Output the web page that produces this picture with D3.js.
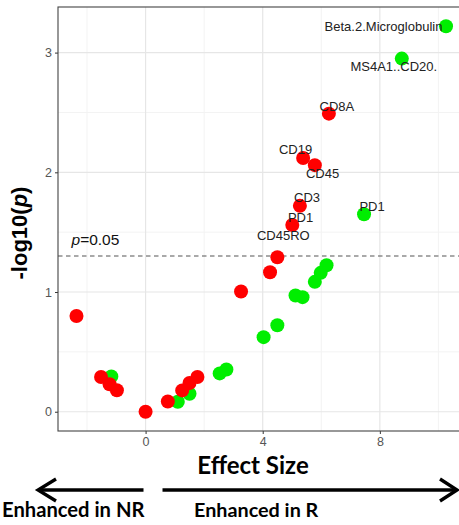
<!DOCTYPE html>
<html>
<head>
<meta charset="utf-8">
<script src="https://cdn.jsdelivr.net/npm/d3@7"></script>
<style>
  html, body { margin: 0; padding: 0; background: #fff; }
  svg { display: block; }
</style>
</head>
<body>
<div id="chart"></div>
<script>
// Volcano-style plot: effect size vs -log10(p)

const greenEffect = [10.26, 8.75, 7.46, 6.18, 5.98, 5.78, 5.12, 5.36, 4.50, 4.03, 2.76, 2.53, 1.50, 1.10, -1.17];
const greenLogP = [3.22, 2.95, 1.65, 1.224, 1.16, 1.085, 0.971, 0.957, 0.723, 0.623, 0.353, 0.32, 0.15, 0.083, 0.295];
const greenNames = ["Beta.2.Microglobulin", "MS4A1..CD20.", "PD1", "", "", "", "", "", "", "", "", "", "", "", ""];

const redEffect = [6.26, 5.38, 5.78, 5.27, 5.01, 4.50, 4.25, 3.26, 1.77, 1.50, 1.25, 0.76, 0, -0.98, -1.23, -1.52, -2.36];
const redLogP = [2.49, 2.12, 2.06, 1.72, 1.56, 1.29, 1.165, 1.004, 0.29, 0.24, 0.178, 0.086, 0, 0.18, 0.23, 0.29, 0.80];
const redNames = ["CD8A", "CD19", "CD45", "CD3", "PD1", "CD45RO", "", "", "", "", "", "", "", "", "", "", ""];

const xTicks = [0, 4, 8];
const xMinor = [-2, 2, 6, 10];
const yTicks = [0, 1, 2, 3];
const yMinor = [0.5, 1.5, 2.5];
const pThreshold = 0.05;

// label nudges in px (repel-like placement)
const labelNudge = {
  "Beta.2.Microglobulin": [-62.5, 0],
  "MS4A1..CD20.": [-8, 8],
  "CD8A": [8, -7.6],
  "CD19": [-7.6, -8.4],
  "CD45": [7.7, 8.7],
  "CD3": [7.2, -8.3],
  "PD1g": [8, -8.3],
  "PD1r": [8.3, -8],
  "CD45RO": [6, -22],
};

const width = 459;
const height = 525;
const panel = { left: 58, top: 7, bottom: 431, right: 464.5 };

const toPoints = (xs, ys, names, grp) =>
  xs.map((x, i) => ({ x, y: ys[i], name: names[i], grp }));
const green = toPoints(greenEffect, greenLogP, greenNames, "g");
const red = toPoints(redEffect, redLogP, redNames, "r");
const all = green.concat(red);

// ggplot-like 5% expansion
const expand = (ext) => {
  const pad = (ext[1] - ext[0]) * 0.05;
  return [ext[0] - pad, ext[1] + pad];
};
const x = d3.scaleLinear()
  .domain(expand(d3.extent(all, (d) => d.x)))
  .range([panel.left, panel.right]);
const y = d3.scaleLinear()
  .domain(expand(d3.extent(all, (d) => d.y)))
  .range([panel.bottom, panel.top]);

const svg = d3.select("#chart").append("svg")
  .attr("width", width)
  .attr("height", height)
  .attr("font-family", "'Liberation Sans', Arial, sans-serif");

const grid = svg.append("g");
grid.selectAll("line.vminor").data(xMinor).enter().append("line")
  .attr("x1", (d) => x(d)).attr("x2", (d) => x(d))
  .attr("y1", panel.top).attr("y2", panel.bottom)
  .attr("stroke", "#f3f3f3").attr("stroke-width", 1);
grid.selectAll("line.hminor").data(yMinor).enter().append("line")
  .attr("y1", (d) => y(d)).attr("y2", (d) => y(d))
  .attr("x1", panel.left).attr("x2", panel.right)
  .attr("stroke", "#f3f3f3").attr("stroke-width", 1);
grid.selectAll("line.vmajor").data(xTicks).enter().append("line")
  .attr("x1", (d) => x(d)).attr("x2", (d) => x(d))
  .attr("y1", panel.top).attr("y2", panel.bottom)
  .attr("stroke", "#e6e6e6").attr("stroke-width", 1.2);
grid.selectAll("line.hmajor").data(yTicks).enter().append("line")
  .attr("y1", (d) => y(d)).attr("y2", (d) => y(d))
  .attr("x1", panel.left).attr("x2", panel.right)
  .attr("stroke", "#e6e6e6").attr("stroke-width", 1.2);

// threshold line
const thr = -Math.log10(pThreshold);
svg.append("line")
  .attr("x1", panel.left).attr("x2", panel.right)
  .attr("y1", y(thr)).attr("y2", y(thr))
  .attr("stroke", "#555").attr("stroke-width", 1.2)
  .attr("stroke-dasharray", "4.5,3.5");

const pLab = svg.append("text")
  .attr("x", 71.5).attr("y", y(thr) - 10.5)
  .attr("font-size", 15.5).attr("fill", "#111");
pLab.append("tspan").attr("font-style", "italic").text("p");
pLab.append("tspan").text("=" + pThreshold);

// axes
const xAxis = d3.axisBottom(x).tickValues(xTicks).tickFormat(d3.format("d"))
  .tickSize(3).tickPadding(3);
const yAxis = d3.axisLeft(y).tickValues(yTicks).tickFormat(d3.format("d"))
  .tickSize(3).tickPadding(3);
const gx = svg.append("g").attr("transform", `translate(0,${panel.bottom})`).call(xAxis);
const gy = svg.append("g").attr("transform", `translate(${panel.left},0)`).call(yAxis);
[gx, gy].forEach((g) => {
  g.select(".domain").remove();
  g.selectAll(".tick line").attr("stroke", "#333");
  g.selectAll(".tick text").attr("fill", "#555").attr("font-size", 12.5)
    .attr("font-family", "'Liberation Sans', Arial, sans-serif");
});

// panel border
svg.append("rect")
  .attr("x", panel.left).attr("y", panel.top)
  .attr("width", panel.right - panel.left).attr("height", panel.bottom - panel.top)
  .attr("fill", "none").attr("stroke", "#444").attr("stroke-width", 1.1);

// points: green underneath, red on top
svg.append("clipPath").attr("id", "clip").append("rect")
  .attr("x", panel.left).attr("y", panel.top)
  .attr("width", panel.right - panel.left).attr("height", panel.bottom - panel.top);
const pts = svg.append("g").attr("clip-path", "url(#clip)");
pts.selectAll("circle.g").data(green).enter().append("circle")
  .attr("cx", (d) => x(d.x)).attr("cy", (d) => y(d.y)).attr("r", 7)
  .attr("fill", "#00ee00");
pts.selectAll("circle.r").data(red).enter().append("circle")
  .attr("cx", (d) => x(d.x)).attr("cy", (d) => y(d.y)).attr("r", 7)
  .attr("fill", "#ff0000");

// point labels
const labelled = all.filter((d) => d.name);
svg.append("g").selectAll("text").data(labelled).enter().append("text")
  .attr("x", (d) => x(d.x) + (labelNudge[d.name] || labelNudge[d.name + d.grp])[0])
  .attr("y", (d) => y(d.y) + (labelNudge[d.name] || labelNudge[d.name + d.grp])[1] + 4.6)
  .attr("text-anchor", "middle")
  .attr("font-size", 13)
  .attr("fill", "#222")
  .text((d) => d.name);

// axis titles
svg.append("text")
  .attr("x", 253).attr("y", 474)
  .attr("text-anchor", "middle")
  .attr("font-family", "Lato, 'Open Sans', sans-serif")
  .attr("font-weight", "bold").attr("font-size", 24)
  .attr("fill", "#000")
  .text("Effect Size");

const yt = svg.append("text")
  .attr("transform", "translate(27,233) rotate(-90)")
  .attr("text-anchor", "middle")
  .attr("font-weight", "bold").attr("font-size", 22)
  .attr("fill", "#000");
yt.append("tspan").text("-log10(");
yt.append("tspan").attr("font-style", "italic").text("p");
yt.append("tspan").text(")");

// direction arrows
const ay = 490;
const arrows = svg.append("g").attr("stroke", "#000").attr("stroke-width", 3.3)
  .attr("fill", "none").attr("stroke-linecap", "butt");
arrows.append("line").attr("x1", 38).attr("x2", 143.5).attr("y1", ay).attr("y2", ay);
arrows.append("path").attr("d", `M56,${ay - 11} L38,${ay} L56,${ay + 11}`)
  .attr("stroke-linejoin", "miter");
arrows.append("line").attr("x1", 162.5).attr("x2", 456).attr("y1", ay).attr("y2", ay);
arrows.append("path").attr("d", `M440,${ay - 11} L457,${ay} L440,${ay + 11}`)
  .attr("stroke-linejoin", "miter");

svg.append("text")
  .attr("x", 2).attr("y", 517)
  .attr("font-family", "Lato, 'Open Sans', sans-serif")
  .attr("font-weight", "bold").attr("font-size", 20.2)
  .attr("fill", "#000")
  .text("Enhanced in NR");
svg.append("text")
  .attr("x", 194).attr("y", 517)
  .attr("font-family", "Lato, 'Open Sans', sans-serif")
  .attr("font-weight", "bold").attr("font-size", 19.8)
  .attr("fill", "#000")
  .text("Enhanced in R");
</script>
</body>
</html>
